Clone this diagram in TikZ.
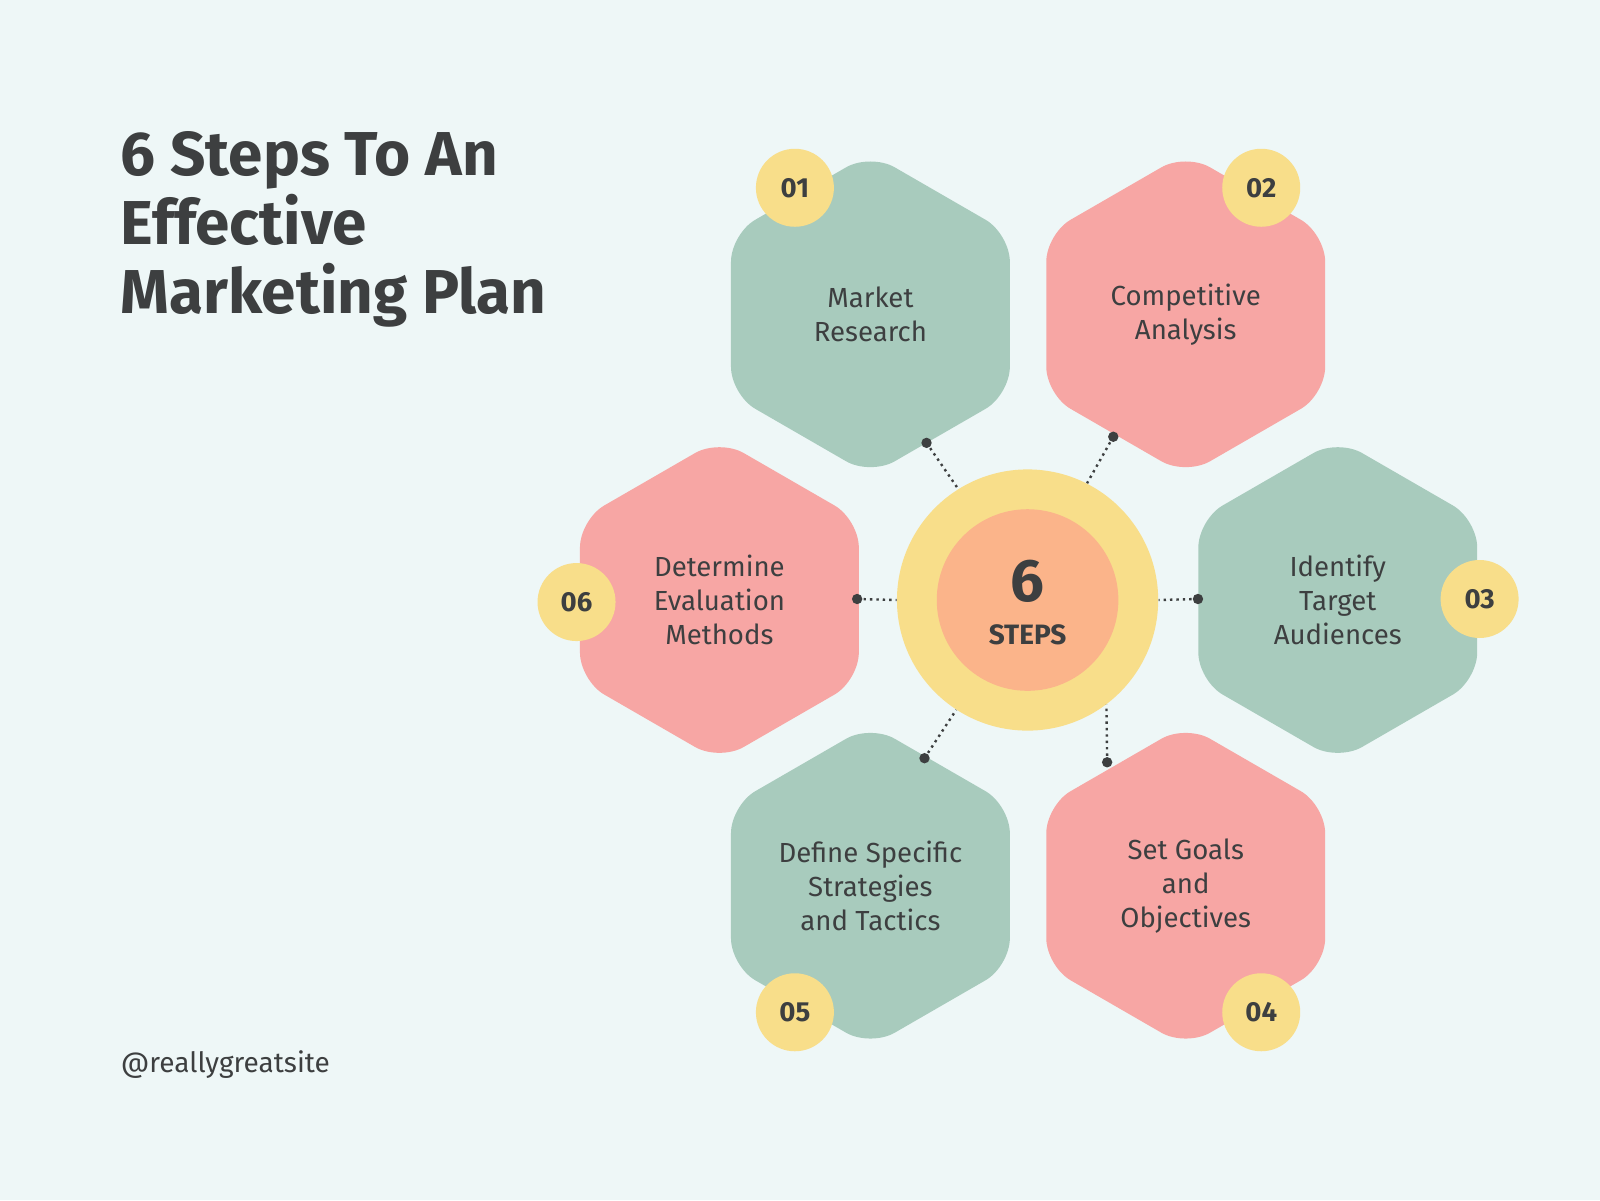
\documentclass[tikz,border=0pt]{standalone}
\usepackage{fontspec}
\setmainfont{Fira Sans}
\usetikzlibrary{shapes.geometric}
\definecolor{bgcol}{HTML}{EEF7F7}
\definecolor{hexgreen}{HTML}{A8CBBD}
\definecolor{hexpink}{HTML}{F7A6A4}
\definecolor{badge}{HTML}{F8DE8A}
\definecolor{core}{HTML}{FBB48A}
\definecolor{ink}{HTML}{3D3F40}
\tikzset{
  hexa/.style={regular polygon, regular polygon sides=6, shape border rotate=30,
    minimum size=161pt, inner sep=0pt, rounded corners=14pt, draw=none,
    align=center, text=ink, font=\fontsize{13.8}{17}\selectfont},
  num/.style={circle, fill=badge, minimum size=39pt, inner sep=0pt, text=ink,
    font=\bfseries\fontsize{13.8}{16}\selectfont},
  link/.style={dotted, line width=1.2pt, ink},
}
\begin{document}
\begin{tikzpicture}[x=0.5102pt, y=-0.5102pt]
	\fill[bgcol] (0,0) rectangle (1568,1176);
	\useasboundingbox (0,0) rectangle (1568,1176);

	% title and handle
	\node[anchor=north west, align=left, text=ink, inner sep=0pt,
	  font=\bfseries\fontsize{31}{34.5}\selectfont] (title) at (118,128)
	  {6 Steps To An\\Effective\\Marketing Plan};
	\node[anchor=west, text=ink, inner sep=0pt, font=\fontsize{14}{16}\selectfont]
	  (site) at (118,1043) {@reallygreatsite};

	% hexagons
	\node[hexa, fill=hexgreen] (h1) at (853,308) {Market\\Research};
	\node[hexa, fill=hexpink]  (h2) at (1162,308) {Competitive\\Analysis};
	\node[hexa, fill=hexgreen] (h3) at (1311,588) {Identify\\Target\\Audiences};
	\node[hexa, fill=hexpink]  (h4) at (1162,868) {Set Goals\\and\\Objectives};
	\node[hexa, fill=hexgreen] (h5) at (853,868) {Define Specific\\Strategies\\and Tactics};
	\node[hexa, fill=hexpink]  (h6) at (705,588) {Determine\\Evaluation\\Methods};

	% badges
	\node[num] (n1) at (779,184) {01};
	\node[num] (n2) at (1236,184) {02};
	\node[num] (n3) at (1450,587) {03};
	\node[num] (n4) at (1236,992) {04};
	\node[num] (n5) at (779,992) {05};
	\node[num] (n6) at (565,590) {06};

	% centre
	\node[circle, fill=badge, minimum size=130.6pt, inner sep=0pt] (ring) at (1007,588) {};
	\node[circle, fill=core, minimum size=90.8pt, inner sep=0pt] (core) at (1007,588) {};
	\node[text=ink, font=\bfseries\fontsize{30}{32}\selectfont] (six) at (1007,570) {6};
	\node[text=ink, font=\bfseries\fontsize{14}{16}\selectfont] (steps) at (1007,622) {STEPS};

	% connectors
	\coordinate (d1) at (908,434);
	\coordinate (d2) at (1091,428);
	\coordinate (d3) at (1174,587);
	\coordinate (d4) at (1085,747);
	\coordinate (d5) at (906,743);
	\coordinate (d6) at (840,587);
	\draw[link] (d1) -- (ring.122);
	\draw[link] (d2) -- (ring.63);
	\draw[link] (d3) -- (ring.0);
	\draw[link] (d4) -- (ring.-53);
	\draw[link] (d5) -- (ring.-123);
	\draw[link] (d6) -- (ring.180);
	\foreach \d in {d1,d2,d3,d4,d5,d6}
		\fill[ink] (\d) circle (2.6pt);
\end{tikzpicture}
\end{document}
